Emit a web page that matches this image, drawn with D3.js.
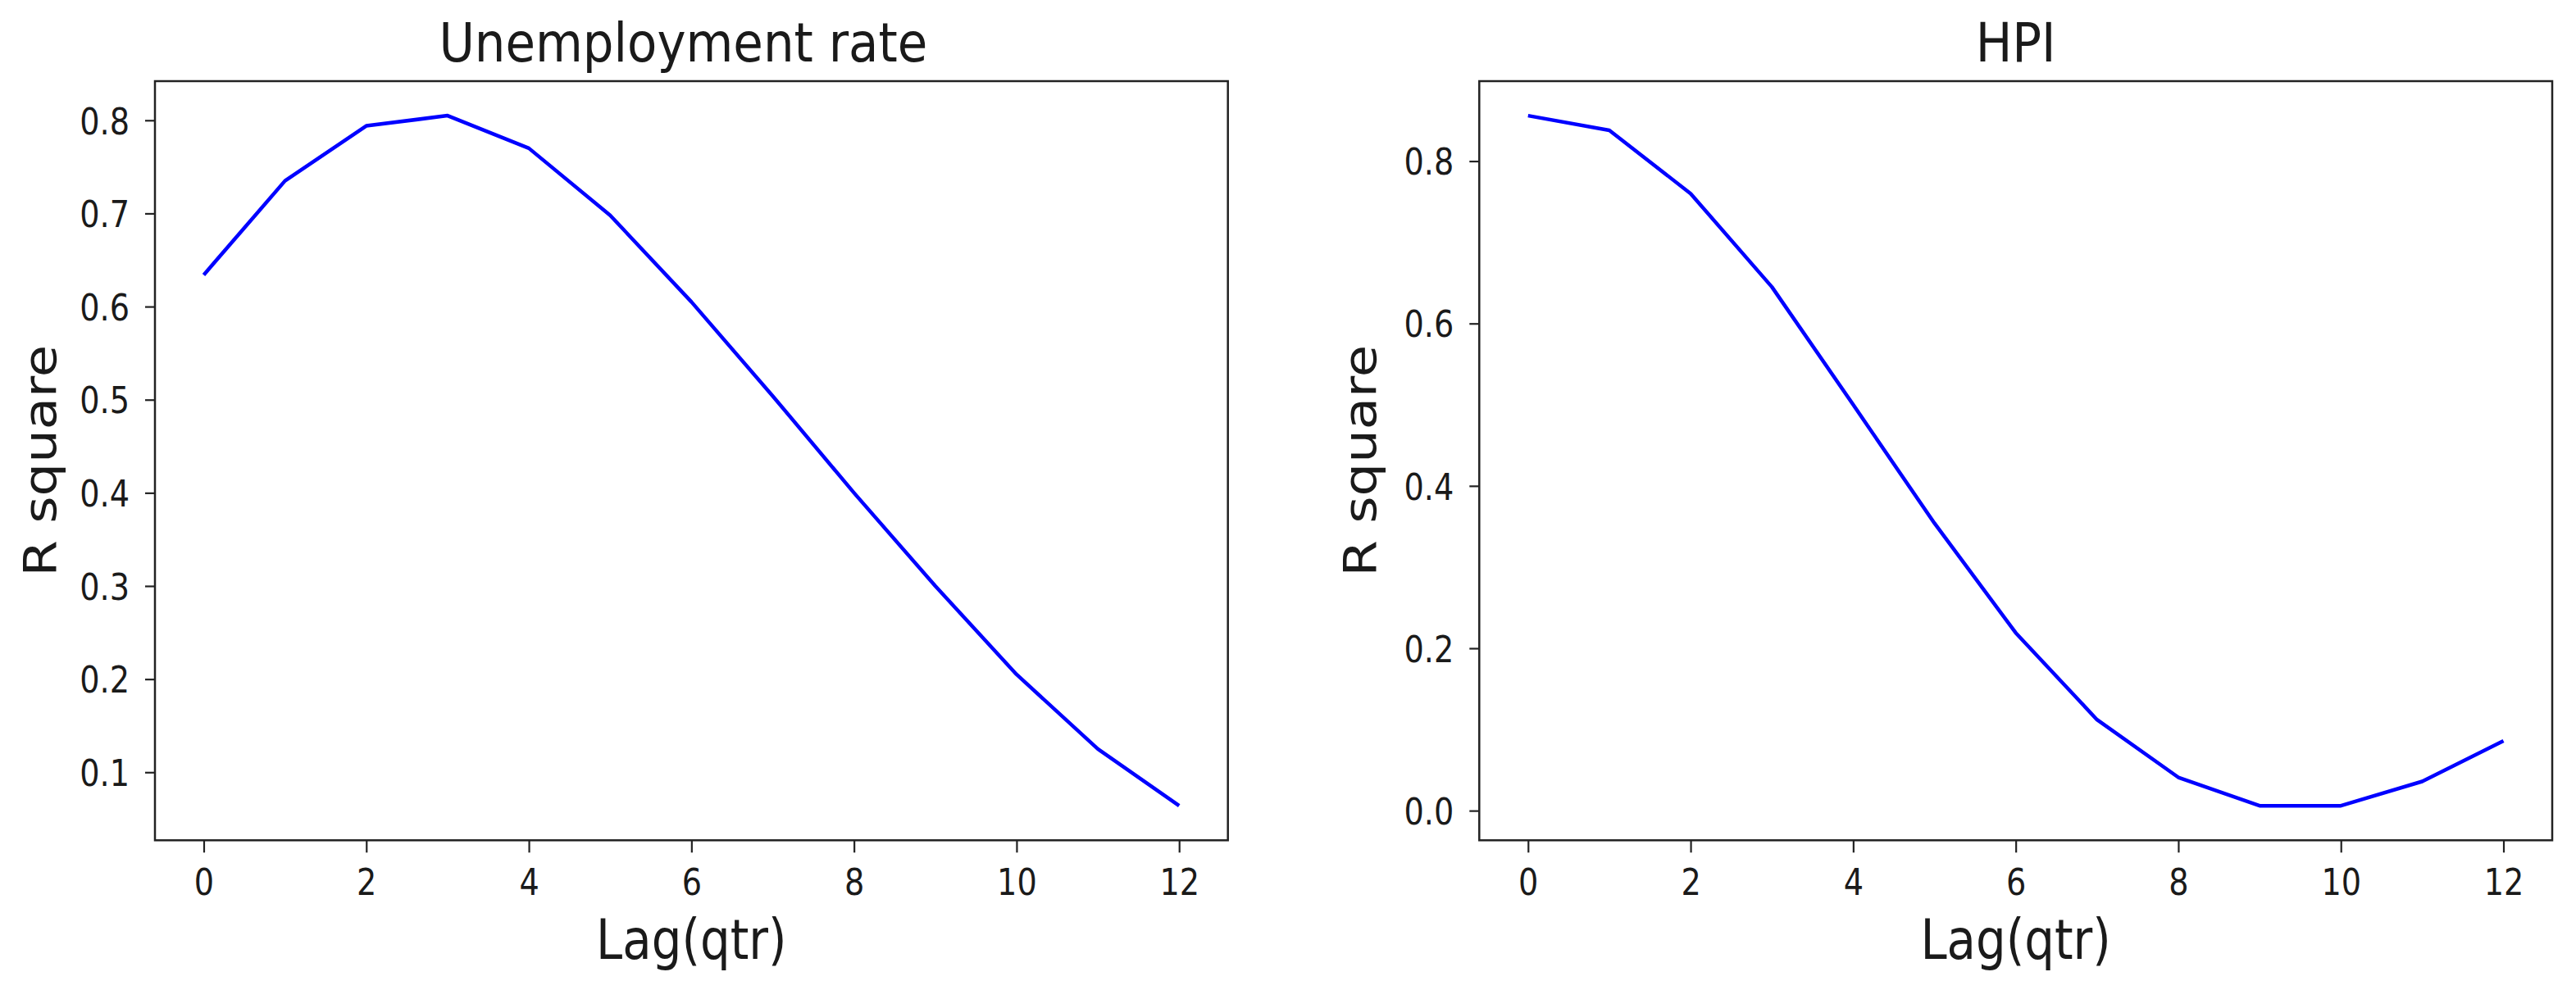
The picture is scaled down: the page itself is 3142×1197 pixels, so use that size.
<!DOCTYPE html>
<html>
<head>
<meta charset="utf-8">
<script src="https://cdn.jsdelivr.net/npm/d3@7"></script>
<style>
  html, body { margin: 0; padding: 0; background: #ffffff; }
  svg { display: block; }
  text { font-family: "DejaVu Sans", sans-serif; fill: #1a1a1a; }
</style>
</head>
<body>
<svg id="chart" width="3142" height="1197"></svg>
<script>
// ---- data ----
const lags = [0, 1, 2, 3, 4, 5, 6, 7, 8, 9, 10, 11, 12];
const unemploymentR2 = [0.634, 0.735, 0.794, 0.805, 0.770, 0.698, 0.605, 0.504, 0.400, 0.300, 0.205, 0.125, 0.064];
const hpiR2 = [0.856, 0.838, 0.760, 0.645, 0.500, 0.354, 0.219, 0.112, 0.041, 0.006, 0.006, 0.036, 0.086];
const xTicks = [0, 2, 4, 6, 8, 10, 12];
const yTicksUnemp = [0.1, 0.2, 0.3, 0.4, 0.5, 0.6, 0.7, 0.8];
const yTicksHpi = [0.0, 0.2, 0.4, 0.6, 0.8];
const titles = ["Unemployment rate", "HPI"];
const xLabel = "Lag(qtr)";
const yLabel = "R square";

// ---- layout ----
const SX = 0.85; // horizontal squeeze of the text (reference is vertically stretched)
const panels = [
  { left: 189, right: 1497.7, values: unemploymentR2, yTicks: yTicksUnemp, title: titles[0], ylabX: 68, titleDx: -10 },
  { left: 1804.3, right: 3113, values: hpiR2, yTicks: yTicksHpi, title: titles[1], ylabX: 1678, titleDx: 0 }
];
const plotTop = 99, plotBottom = 1025.3;

const svg = d3.select("#chart");

panels.forEach(p => {
  const g = svg.append("g");
  const xmin = d3.min(lags), xmax = d3.max(lags);
  const xm = (xmax - xmin) * 0.05;
  const x = d3.scaleLinear().domain([xmin - xm, xmax + xm]).range([p.left, p.right]);
  const ymin = d3.min(p.values), ymax = d3.max(p.values);
  const ym = (ymax - ymin) * 0.05;
  const y = d3.scaleLinear().domain([ymin - ym, ymax + ym]).range([plotBottom, plotTop]);

  // x axis
  const xa = g.append("g").attr("transform", `translate(0,${plotBottom})`)
    .call(d3.axisBottom(x).tickValues(xTicks).tickFormat(d3.format("d")).tickSize(15));
  xa.select(".domain").remove();
  xa.selectAll(".tick line").attr("stroke", "#222").attr("stroke-width", 2.2);
  xa.selectAll(".tick text")
    .attr("y", 67).attr("dy", 0)
    .attr("transform", `scale(${SX},1)`)
    .style("font-size", "45px").style("font-family", "DejaVu Sans").attr("fill", "#1a1a1a");

  // y axis
  const ya = g.append("g").attr("transform", `translate(${p.left},0)`)
    .call(d3.axisLeft(y).tickValues(p.yTicks).tickFormat(d3.format(".1f")).tickSize(12));
  ya.select(".domain").remove();
  ya.selectAll(".tick line").attr("stroke", "#222").attr("stroke-width", 2.2);
  ya.selectAll(".tick text")
    .attr("x", -31 / SX).attr("dy", "0.36em")
    .attr("transform", `scale(${SX},1)`)
    .style("font-size", "45px").style("font-family", "DejaVu Sans").attr("fill", "#1a1a1a");

  // frame
  g.append("rect")
    .attr("x", p.left).attr("y", plotTop)
    .attr("width", p.right - p.left).attr("height", plotBottom - plotTop)
    .attr("fill", "none").attr("stroke", "#222").attr("stroke-width", 2.5);

  // line
  const line = d3.line().x((d, i) => x(lags[i])).y(d => y(d));
  g.append("path").datum(p.values)
    .attr("d", line)
    .attr("fill", "none").attr("stroke", "#0000ff").attr("stroke-width", 4.5)
    .attr("stroke-linejoin", "round");

  const cx = (p.left + p.right) / 2;
  // title
  g.append("text")
    .attr("transform", `translate(${cx + p.titleDx},75) scale(0.9,1)`)
    .attr("text-anchor", "middle")
    .style("font-size", "66px")
    .text(p.title);
  // x label
  g.append("text")
    .attr("transform", `translate(${cx},1170) scale(${SX},1)`)
    .attr("text-anchor", "middle")
    .style("font-size", "68px")
    .text(xLabel);
  // y label
  g.append("text")
    .attr("transform", `translate(${p.ylabX},${(plotTop + plotBottom) / 2}) scale(${SX},1) rotate(-90)`)
    .attr("text-anchor", "middle")
    .style("font-size", "64px")
    .text(yLabel);
});
</script>
</body>
</html>
